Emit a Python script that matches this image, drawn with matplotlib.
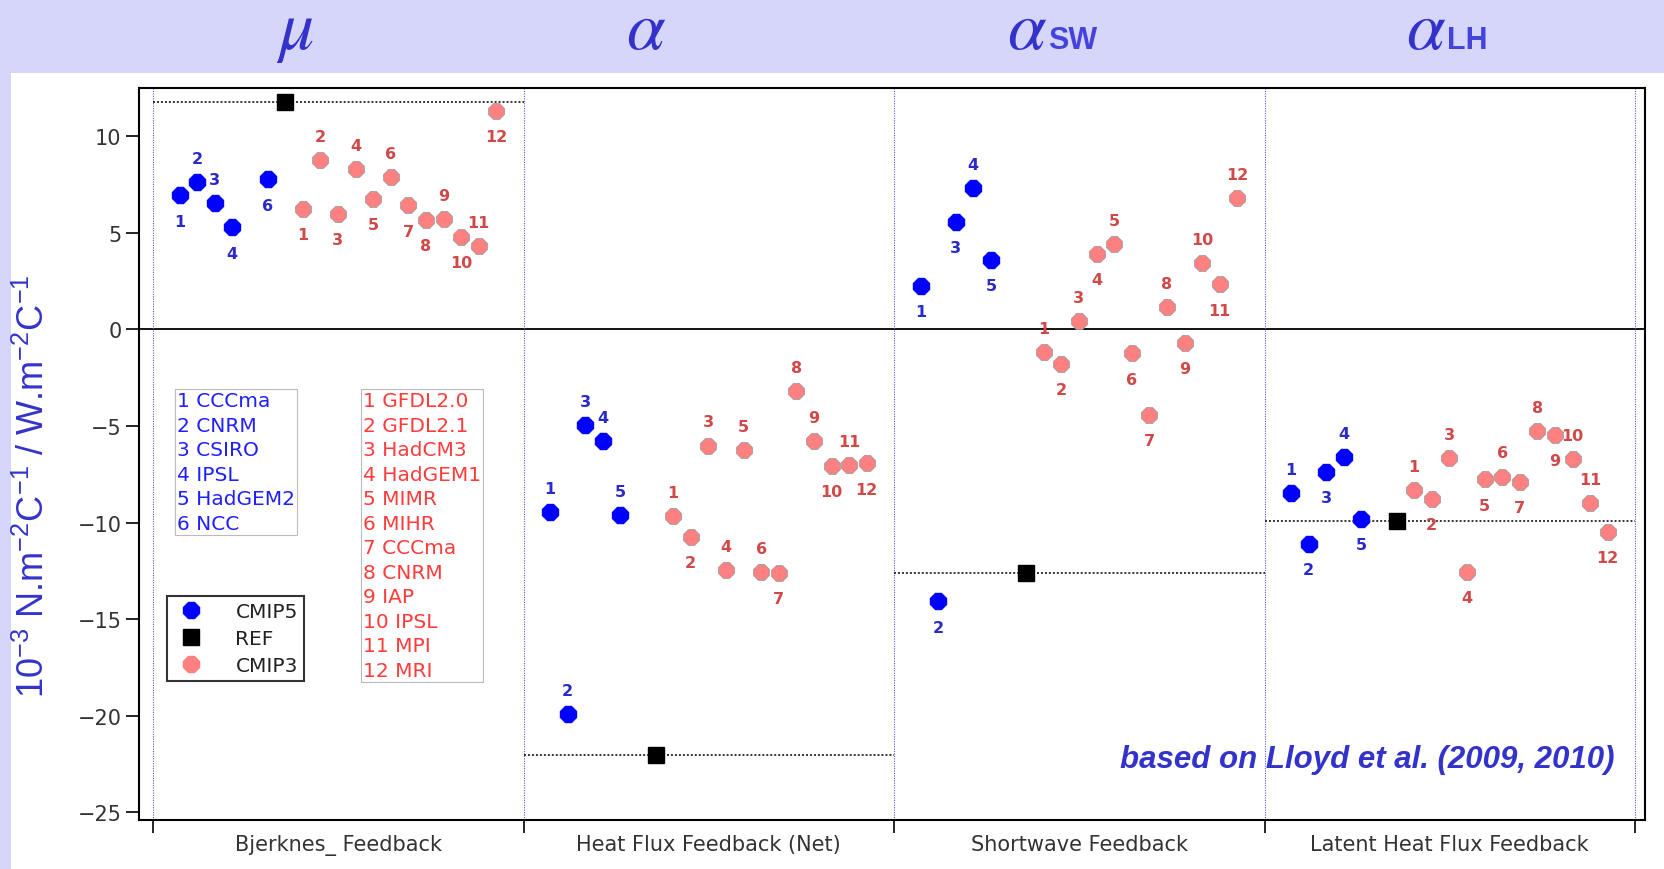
import matplotlib.pyplot as plt
import numpy as np
from matplotlib.lines import Line2D
from matplotlib.patches import Rectangle

plt.rcParams['font.family'] = ['DejaVu Sans']
plt.rcParams['mathtext.default'] = 'regular'

nan = np.nan

# feedback categories along the x axis
panels = ["Bjerknes_ Feedback", "Heat Flux Feedback (Net)",
          "Shortwave Feedback", "Latent Heat Flux Feedback"]
symbols = ["μ", "α", "α", "α"]
subscripts = ["", "", "SW", "LH"]

cmip5_names = ["CCCma", "CNRM", "CSIRO", "IPSL", "HadGEM2", "NCC"]
cmip3_names = ["GFDL2.0", "GFDL2.1", "HadCM3", "HadGEM1", "MIMR", "MIHR",
               "CCCma", "CNRM", "IAP", "IPSL", "MPI", "MRI"]

# CMIP5 models (nan = not available)
cmip5_bjerknes = [6.94, 7.63, 6.56, 5.28, nan, 7.77]
cmip5_heat = [-9.45, -19.91, -4.97, -5.79, -9.59, nan]
cmip5_sw = [2.25, -14.08, 5.58, 7.32, 3.61, nan]
cmip5_lh = [-8.46, -11.10, -7.37, -6.63, -9.81, nan]

# observational reference
ref = [11.78, -22.05, -12.62, -9.90]

# CMIP3 models
cmip3_bjerknes = [6.25, 8.77, 5.97, 8.32, 6.74, 7.88, 6.42, 5.66, 5.73, 4.77, 4.32, 11.33]
cmip3_heat = [-9.67, -10.74, -6.01, -12.47, -6.23, -12.56, -12.61, -3.21, -5.79, -7.08, -7.00, -6.94]
cmip3_sw = [-1.16, -1.78, 0.43, 3.92, 4.44, -1.24, -4.42, 1.18, -0.71, 3.45, 2.33, 6.79]
cmip3_lh = [-8.31, -8.76, -6.65, -12.56, -7.77, -7.62, -7.91, -5.25, -5.48, -6.72, -8.98, -10.50]

# where the number goes: a = above, b = below
cmip5_side = ["baabxb", "aaaaax", "bbbabx", "abbabx"]
cmip3_side = ["babababbabab", "abaaaabaabab", "abababbababa", "ababbababaab"]

cmip5 = [cmip5_bjerknes, cmip5_heat, cmip5_sw, cmip5_lh]
cmip3 = [cmip3_bjerknes, cmip3_heat, cmip3_sw, cmip3_lh]

W, H = 1664, 870
AX_L, AX_R, AX_T, AX_B = 139, 1645, 89, 821


def ax_x(px):
    return (px - AX_L) / (AX_R - AX_L)


def ax_y(py):
    return (AX_B - py) / (AX_B - AX_T)


def slot_x(panel, k):
    # k = 1..19 : 6 CMIP5, REF, 12 CMIP3
    return panel + (26.5 + 17.6 * (k - 1)) / 370.5


fig = plt.figure(figsize=(W / 100, H / 100), dpi=100)
fig.patches.append(Rectangle((0, 1 - 74 / H), 1, 74 / H, transform=fig.transFigure,
                             facecolor='#d6d6fa', edgecolor='none', zorder=0))
fig.patches.append(Rectangle((0, 0), 11 / W, 1, transform=fig.transFigure,
                             facecolor='#d6d6fa', edgecolor='none', zorder=0))

ax = fig.add_axes([AX_L / W, (H - AX_B) / H, (AX_R - AX_L) / W, (AX_B - AX_T) / H])

blue = '#0000ff'
salmon = '#ff8080'
lab5 = '#2a2ac8'
lab3 = '#d04848'

ax.axhline(0, color='black', lw=1.3, zorder=1)
for b in range(5):
    ax.axvline(b, color='#5a5acc', lw=0.8, ls=(0, (1, 1.2)), zorder=1)

for p in range(4):
    x5 = [slot_x(p, i + 1) for i in range(6)]
    ax.plot(x5, cmip5[p], ls='none', marker='8', ms=12.5, mfc=blue, mec=blue, zorder=3)
    for i, v in enumerate(cmip5[p]):
        if np.isnan(v):
            continue
        dy = 17 if cmip5_side[p][i] == 'a' else -18.5
        ax.annotate(str(i + 1), (x5[i], v), xytext=(0, dy), textcoords='offset points',
                    ha='center', va='center', fontsize=11.5, fontweight='bold', color=lab5)

    ax.hlines(ref[p], p, p + 1, colors='black', linestyles=(0, (1.3, 1.3)), lw=1.1, zorder=2)
    ax.plot(slot_x(p, 7), ref[p], marker='s', ms=11.5, color='black', ls='none', zorder=4)

    x3 = [slot_x(p, 8 + j) for j in range(12)]
    ax.plot(x3, cmip3[p], ls='none', marker='8', ms=12.5, mfc=salmon, mec='#a0a0a0',
            mew=0.6, zorder=3)
    for j, v in enumerate(cmip3[p]):
        dy = 17 if cmip3_side[p][j] == 'a' else -18.5
        ax.annotate(str(j + 1), (x3[j], v), xytext=(0, dy), textcoords='offset points',
                    ha='center', va='center', fontsize=11.5, fontweight='bold', color=lab3)

ax.set_xlim(-14 / 370.5, 4 + 10 / 370.5)
ax.set_ylim(-25.4, 12.5)

ax.set_yticks([10, 5, 0, -5, -10, -15, -20, -25])
ax.tick_params(axis='y', direction='out', length=9.5, width=1.2, pad=3,
               labelsize=15, labelcolor='#333333')
ax.set_xticks(range(5))
ax.set_xticklabels([])
ax.tick_params(axis='x', which='major', direction='out', length=9, width=1.2)
ax.set_xticks([p + 0.5 for p in range(4)], minor=True)
ax.set_xticklabels(panels, minor=True)
ax.tick_params(axis='x', which='minor', length=0, pad=10, labelsize=15, labelcolor='#333333')
for s in ax.spines.values():
    s.set_linewidth(1.5)

# model name keys
ax.text(ax_x(177), ax_y(392), "\n".join(f"{i + 1} {n}" for i, n in enumerate(cmip5_names)),
        transform=ax.transAxes, ha='left', va='top', fontsize=14.5, color='#1f1fff',
        linespacing=1.37,
        bbox=dict(boxstyle='square,pad=0.1', fc='white', ec='#bbbbbb', lw=0.8))
ax.text(ax_x(363), ax_y(392), "\n".join(f"{i + 1} {n}" for i, n in enumerate(cmip3_names)),
        transform=ax.transAxes, ha='left', va='top', fontsize=14.5, color='#ff3b3b',
        linespacing=1.37,
        bbox=dict(boxstyle='square,pad=0.1', fc='white', ec='#bbbbbb', lw=0.8))

handles = [Line2D([], [], ls='none', marker='8', ms=13, mfc=blue, mec=blue),
           Line2D([], [], ls='none', marker='s', ms=12, color='black'),
           Line2D([], [], ls='none', marker='8', ms=13, mfc=salmon, mec=salmon)]
leg = ax.legend(handles, ['CMIP5', 'REF', 'CMIP3'], loc='lower left',
                bbox_to_anchor=(ax_x(167), ax_y(682)), borderaxespad=0,
                fancybox=False, edgecolor='black', fontsize=14.5, labelspacing=0.4,
                handletextpad=1.3, borderpad=0.3, handlelength=1.8)
leg.get_frame().set_linewidth(1.5)
for t in leg.get_texts():
    t.set_color('#222222')

ax.text(ax_x(1615), ax_y(760), "based on Lloyd et al. (2009, 2010)", transform=ax.transAxes,
        ha='right', va='center', fontsize=22.5, fontweight='bold', style='italic',
        family='Liberation Sans', color='#3333cc')

fig.text(34 / W, 1 - 486 / H, r"$10^{-3}$ N.m$^{-2}$C$^{-1}$ / W.m$^{-2}$C$^{-1}$",
         rotation=90, ha='center', va='center', fontsize=26, family='Liberation Sans',
         color='#3333cc')

# header symbols
sym_x = [297, 645, 1026, 1425]
for p in range(4):
    fig.text(sym_x[p] / W, 1 - 49 / H, symbols[p], ha='center', va='baseline',
             fontsize=50, family='STIXGeneral', style='italic', color='#3333cc')
    if subscripts[p]:
        fig.text((sym_x[p] + 22) / W, 1 - 49 / H, subscripts[p], ha='left', va='baseline',
                 fontsize=22, fontweight='bold', family='Liberation Sans', color='#4444dd')

fig.savefig('out.png', dpi=100)
